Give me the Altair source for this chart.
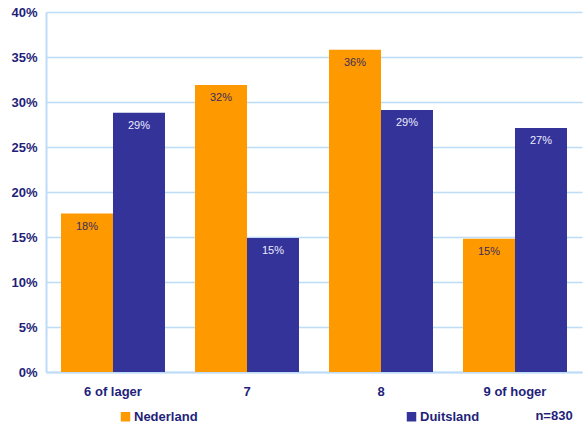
import altair as alt
import pandas as pd

# Rapportcijfers per land
categories = ["6 of lager", "7", "8", "9 of hoger"]
series = ["Nederland", "Duitsland"]
nederland = [0.176, 0.319, 0.358, 0.148]
duitsland = [0.288, 0.149, 0.291, 0.271]
bar_colors = ["#FF9900", "#333399"]
label_colors = ["#3a2c5c", "#ececff"]
y_ticks = [0, 0.05, 0.10, 0.15, 0.20, 0.25, 0.30, 0.35, 0.40]
note = "n=830"

rows = []
for cat, nl, de in zip(categories, nederland, duitsland):
    rows.append({"cat": cat, "serie": series[0], "value": nl})
    rows.append({"cat": cat, "serie": series[1], "value": de})
df = pd.DataFrame(rows)

FONT = "Liberation Sans"
NAVY = "#1f1f7a"
GRID = "#bcdcf8"

x_enc = alt.X(
    "cat:N", sort=categories, title=None,
    scale=alt.Scale(paddingInner=0.224, paddingOuter=0.112),
    axis=alt.Axis(labelAngle=0, labelFont=FONT, labelFontSize=13, labelFontWeight="bold",
                  labelColor=NAVY, ticks=False, labelPadding=13, domainColor=GRID,
                  domainWidth=2, grid=False),
)
xoff_enc = alt.XOffset("serie:N", sort=series, scale=alt.Scale(paddingInner=0, paddingOuter=0))
y_enc = alt.Y(
    "value:Q", title=None,
    scale=alt.Scale(domain=[0, 0.4], nice=False),
    axis=alt.Axis(values=y_ticks, format=".0%", labelFont=FONT, labelFontSize=13,
                  labelFontWeight="bold", labelColor=NAVY, ticks=False, labelPadding=9,
                  domainColor=GRID, domainWidth=2, gridColor=GRID, gridWidth=1.5),
)

base = alt.Chart(df).encode(x=x_enc, xOffset=xoff_enc, y=y_enc)

bars = base.mark_bar(size=52).encode(
    color=alt.Color("serie:N", sort=series, title=None,
                    scale=alt.Scale(domain=series, range=bar_colors),
                    legend=alt.Legend(orient="none", legendX=73, legendY=398, direction="horizontal",
                                      symbolType="square", symbolSize=90, symbolStrokeWidth=0,
                                      symbolOpacity=1, labelFont=FONT, labelFontSize=13,
                                      labelFontWeight="bold", labelColor=NAVY, labelOffset=2,
                                      columnPadding=207, padding=0)),
)

labels = base.mark_text(baseline="top", dy=7, font=FONT, fontSize=11).encode(
    text=alt.Text("value:Q", format=".0%"),
    color=alt.Color("serie:N", sort=series, scale=alt.Scale(domain=series, range=label_colors),
                    legend=None),
)

note_layer = alt.Chart(pd.DataFrame({"t": [note]})).mark_text(
    font=FONT, fontSize=13, fontWeight="bold", color=NAVY, align="center", baseline="middle"
).encode(text="t:N", x=alt.value(508), y=alt.value(404))

chart = alt.layer(bars, labels, note_layer).resolve_scale(color="independent").properties(
    width=536, height=360,
    autosize=alt.AutoSizeParams(type="none"),
    padding={"left": 46, "top": 12, "right": 1, "bottom": 54},
    background="white",
).configure_view(stroke=None)

chart.save("out.html", embed_options={"renderer": "svg", "actions": False})
